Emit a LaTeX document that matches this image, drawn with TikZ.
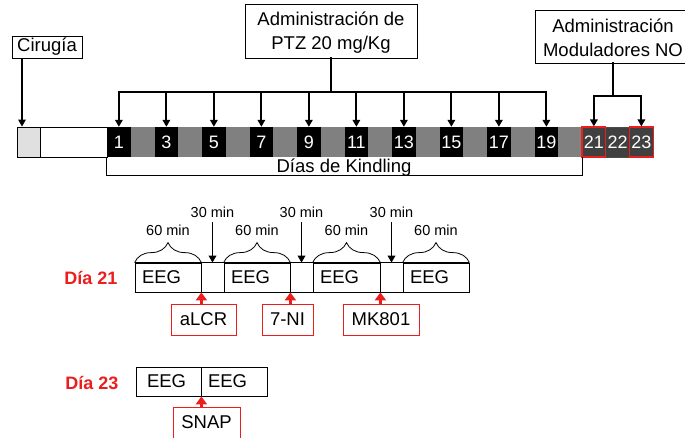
\documentclass[tikz,border=0pt]{standalone}
\usepackage{fontspec}
\setmainfont{Liberation Sans}
\usetikzlibrary{arrows.meta,decorations.pathreplacing,calc}
\definecolor{myred}{RGB}{235,30,30}
\definecolor{cellgray}{RGB}{128,128,128}
\definecolor{darkcell}{RGB}{64,64,64}
\definecolor{lightcell}{RGB}{224,224,224}
\begin{document}
\begin{tikzpicture}[x=1pt,y=-1pt,
  big/.style={font=\fontsize{18.5}{24}\selectfont},
  small/.style={font=\fontsize{14.5}{17}\selectfont},
  box/.style={draw=black, line width=0.8pt, big, inner sep=0pt, align=center},
  cellbox/.style={draw=none, minimum width=23.75pt, minimum height=30pt, inner sep=0pt, font=\fontsize{18}{20}\selectfont, text=white},
  arr/.style={line width=1.8pt, -{Triangle[length=7pt,width=7.5pt]}},
  thickline/.style={line width=2pt, line cap=rect},
  redbox/.style={draw=myred, line width=1pt, big, minimum height=31pt, inner sep=0pt},
  redarr/.style={myred, line width=2.2pt, -{Triangle[length=8pt,width=11pt]}},
  eeg/.style={draw=black, line width=0.8pt, big, minimum height=29pt, inner xsep=7pt, inner ysep=0pt, align=left, text width=#1},
  dia/.style={font=\fontsize{18}{22}\selectfont\bfseries, text=myred, anchor=east},
  bracestyle/.style={line width=0.8pt, decorate, decoration={brace, amplitude=20pt}},
]
\useasboundingbox (0,0) rectangle (685,437);

% timeline
\foreach \i in {1,...,20}{
  \ifodd\i
    \node[cellbox, fill=black] (c\i) at ({107+(\i-1)*23.75+11.875},142) {\i};
  \else
    \node[cellbox, fill=cellgray] (c\i) at ({107+(\i-1)*23.75+11.875},142) {};
  \fi
}
\node[cellbox, fill=lightcell, draw=black, line width=0.8pt, minimum width=23pt] (pre) at (28.5,142) {};
\node[cellbox, fill=white, draw=black, line width=0.8pt, minimum width=67pt] (blank) at (73.5,142) {};
\node[cellbox, fill=darkcell, draw=black!70, line width=1pt] (c22) at ({107+21*23.75+11.875},142) {22};
\node[cellbox, fill=darkcell, draw=myred, line width=1.2pt] (c21) at ({107+20*23.75+11.875},142) {21};
\node[cellbox, fill=darkcell, draw=myred, line width=1.2pt] (c23) at ({107+22*23.75+11.875},142) {23};

% Cirugia
\node[box, minimum width=70pt, minimum height=22pt] (cir) at (47,47) {Cirugía};
\coordinate (cirA) at (22,58);
\draw[arr, line width=1.4pt] (cirA) -- (cirA |- pre.north);

% PTZ
\node[box, minimum width=172pt, minimum height=54pt] (ptz) at (331,31) {\rule{0pt}{16pt}Administración de\\PTZ 20 mg/Kg};
\coordinate (pj) at (331,92);
\draw[thickline] (ptz.south) -- (pj);
\draw[thickline] (c1.north |- pj) -- (c19.north |- pj);
\foreach \i in {1,3,...,19} \draw[arr] (c\i.north |- pj) -- (c\i.north);

% NO
\node[box, minimum width=156pt, minimum height=53pt] (no) at (613,36.5) {\rule{0pt}{16pt}Administración\\Moduladores NO};
\coordinate (nj) at (613,96);
\draw[thickline] (no.south) -- (nj);
\draw[thickline] (c21.north |- nj) -- (c23.north |- nj);
\draw[arr] (c21.north |- nj) -- (c21.north);
\draw[arr] (c23.north |- nj) -- (c23.north);

% Kindling
\draw[line width=0.8pt] (c1.south west) -- ++(0,18) -| (c20.south east);
\node[big, anchor=base] (kind) at (344,172) {Días de Kindling};

% Dia 21
\node[dia] (d21) at (121,278) {Día 21};
\node[eeg=52pt] (e1) at (168,277.5) {EEG};
\node[eeg=52pt] (e2) at (257,277.5) {EEG};
\node[eeg=53pt] (e3) at (346.5,277.5) {EEG};
\node[eeg=52pt] (e4) at (436,277.5) {EEG};
\draw[line width=0.8pt] (e1.north west) -- (e4.north east);
\draw[line width=0.8pt] (e1.south west) -- (e4.south east);
\foreach \e in {e1,e2,e3,e4}{
  \draw[bracestyle] (\e.north west) -- (\e.north east);
  \node[small] at ($(\e.north)+(0,-32)$) {60 min};
}
\foreach \gx/\n in {212.5/1,301.5/2,391.5/3}{
  \coordinate (g\n) at (\gx,222);
  \draw[arr] (g\n) -- (g\n |- e1.north);
  \node[small] (t\n) at (\gx,212) {30 min};
}
\node[redbox, minimum width=65pt] (alcr) at (203.5,319.5) {aLCR};
\node[redbox, minimum width=51pt] (ni) at (287.5,319.5) {7-NI};
\node[redbox, minimum width=76pt] (mk) at (381,319.5) {MK801};
\draw[redarr] (e1.south east |- alcr.north) -- (e1.south east);
\draw[redarr] (e2.south east |- ni.north) -- (e2.south east);
\draw[redarr] (e3.south east |- mk.north) -- (e3.south east);

% Dia 23
\node[dia] (d23) at (122,383) {Día 23};
\node[eeg=43pt, inner xsep=11pt] (f1) at (168.5,381.5) {EEG};
\node[eeg=52pt] (f2) at (234,381.5) {EEG};
\node[redbox, minimum width=67pt] (snap) at (206.5,422.5) {SNAP};
\draw[redarr] (f1.south east |- snap.north) -- (f1.south east);
\end{tikzpicture}
\end{document}
